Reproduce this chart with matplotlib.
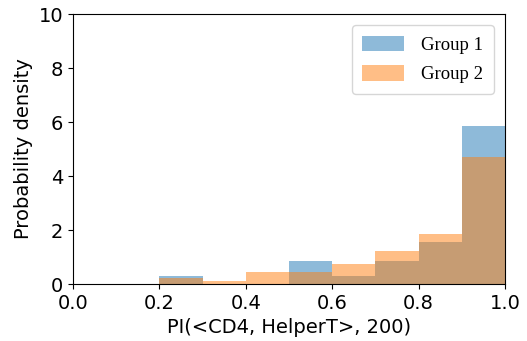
import matplotlib
matplotlib.use("Agg")
import matplotlib.pyplot as plt
import numpy as np

# Histogram bins (left edges) and per-bin probability densities
bin_edges = [0.0, 0.1, 0.2, 0.3, 0.4, 0.5, 0.6, 0.7, 0.8, 0.9, 1.0]
group1_density = [0.0, 0.0, 0.31, 0.0, 0.0, 0.87, 0.31, 0.87, 1.57, 5.85]
group2_density = [0.0, 0.0, 0.22, 0.12, 0.46, 0.46, 0.75, 1.24, 1.87, 4.69]
series_labels = ["Group 1", "Group 2"]
x_ticks = [0.0, 0.2, 0.4, 0.6, 0.8, 1.0]
y_ticks = [0, 2, 4, 6, 8, 10]

fig = plt.figure(figsize=(5.27, 3.41), dpi=100)
ax = fig.add_axes([73 / 527, 1 - 284 / 341, 432 / 527, 270 / 341])

edges = np.array(bin_edges)
widths = np.diff(edges)
ax.bar(edges[:-1], group1_density, width=widths, align="edge",
       color="tab:blue", alpha=0.5, label=series_labels[0])
ax.bar(edges[:-1], group2_density, width=widths, align="edge",
       color="tab:orange", alpha=0.5, label=series_labels[1])

ax.set_xlim(0, 1)
ax.set_ylim(0, 10)
ax.set_xticks(x_ticks)
ax.set_yticks(y_ticks)
ax.tick_params(labelsize=14)
ax.set_xlabel("PI(<CD4, HelperT>, 200)", fontsize=14)
ax.set_ylabel("Probability density", fontsize=14)

ax.legend(loc="upper right", prop={"family": "Liberation Serif", "size": 13.5},
          handlelength=2.2, handleheight=0.9, handletextpad=0.95,
          borderpad=0.55, labelspacing=0.6, borderaxespad=0.6)

fig.savefig("out.png", dpi=100)
